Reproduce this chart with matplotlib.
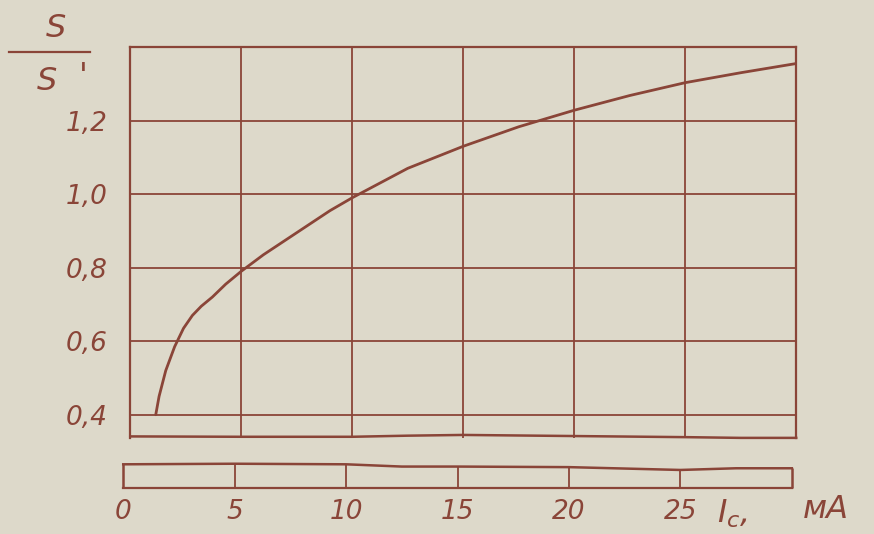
import numpy as np
import matplotlib.pyplot as plt
from matplotlib.lines import Line2D

# --- data ---
ic_ma = [1.15, 1.3, 1.6, 2.0, 2.4, 2.8, 3.2, 3.7, 4.3, 5.0, 6.0, 7.5, 9.0, 10.0,
         12.5, 15.0, 17.5, 20.0, 22.5, 25.0, 27.5, 30.0]
s_ratio = [0.40, 0.45, 0.52, 0.585, 0.635, 0.67, 0.695, 0.72, 0.755, 0.79, 0.835,
           0.895, 0.955, 0.99, 1.07, 1.13, 1.183, 1.228, 1.268, 1.303, 1.33, 1.355]

x_ticks = [0, 5, 10, 15, 20, 25]
x_labels = ["0", "5", "10", "15", "20", "25"]
y_ticks = [0.4, 0.6, 0.8, 1.0, 1.2]
y_labels = ["0,4", "0,6", "0,8", "1,0", "1,2"]

# hand-drawn break lines (wavy edges of the axis break)
brk_x = [0, 5, 10, 12.5, 15, 20, 25, 27.5, 30]
brk_up = [0.341, 0.340, 0.340, 0.343, 0.345, 0.342, 0.339, 0.337, 0.337]
brk_lo = [0.84, 0.86, 0.84, 0.76, 0.76, 0.74, 0.64, 0.70, 0.70]

bg = "#ddd9ca"
ink = "#8a4538"
fnt = dict(color=ink, style="italic", fontsize=19, family="DejaVu Sans")
big = dict(color=ink, style="italic", fontsize=23, family="DejaVu Sans")

fig = plt.figure(figsize=(8.74, 5.34), dpi=100)
fig.patch.set_facecolor(bg)

ax = fig.add_axes([0.149, 0.180, 0.762, 0.732])
ax2 = fig.add_axes([0.141, 0.086, 0.765, 0.053])

for a in (ax, ax2):
    a.set_facecolor(bg)
    a.set_xlim(0, 30)
    for sp in a.spines.values():
        sp.set_color(ink)
        sp.set_linewidth(1.6)
    a.tick_params(length=0)

# --- upper panel ---
ax.set_ylim(min(brk_up), 1.4)
ax.spines["bottom"].set_visible(False)
ax.set_xticks([5, 10, 15, 20, 25])
ax.set_yticks(y_ticks)
ax.grid(True, color=ink, linewidth=1.3)
ax.set_xticklabels([])
ax.set_yticklabels(y_labels, **fnt)
ax.tick_params(axis="y", pad=16)
ax.plot(brk_x, brk_up, color=ink, lw=1.8, clip_on=False)
ax.plot(ic_ma, s_ratio, color=ink, lw=2.0, solid_capstyle="round",
        solid_joinstyle="round")

# --- lower strip ---
ax2.set_ylim(0, 1)
for side in ("top", "left", "right"):
    ax2.spines[side].set_visible(False)
ax2.set_yticks([])
ax2.set_xticks(x_ticks)
ax2.set_xticklabels(x_labels, **fnt)
ax2.tick_params(axis="x", pad=8)
ax2.plot(brk_x, brk_lo, color=ink, lw=1.8, clip_on=False)
ax2.vlines(x_ticks[1:], 0, np.interp(x_ticks[1:], brk_x, brk_lo), color=ink, lw=1.3)
ax2.vlines([brk_x[0], brk_x[-1]], 0, [brk_lo[0], brk_lo[-1]], color=ink, lw=1.8,
           clip_on=False)

# --- axis names ---
fig.text(0.820, 0.022, "$I_c$,", **big)
fig.text(0.918, 0.030, "мА", **big)
fig.text(0.052, 0.930, "S", **big)
fig.text(0.042, 0.832, "S", **big)
fig.text(0.090, 0.840, "'", **big)
fig.add_artist(Line2D([0.010, 0.103], [0.902, 0.902], color=ink, lw=1.6))

plt.savefig("out.png", dpi=100, facecolor=bg)
